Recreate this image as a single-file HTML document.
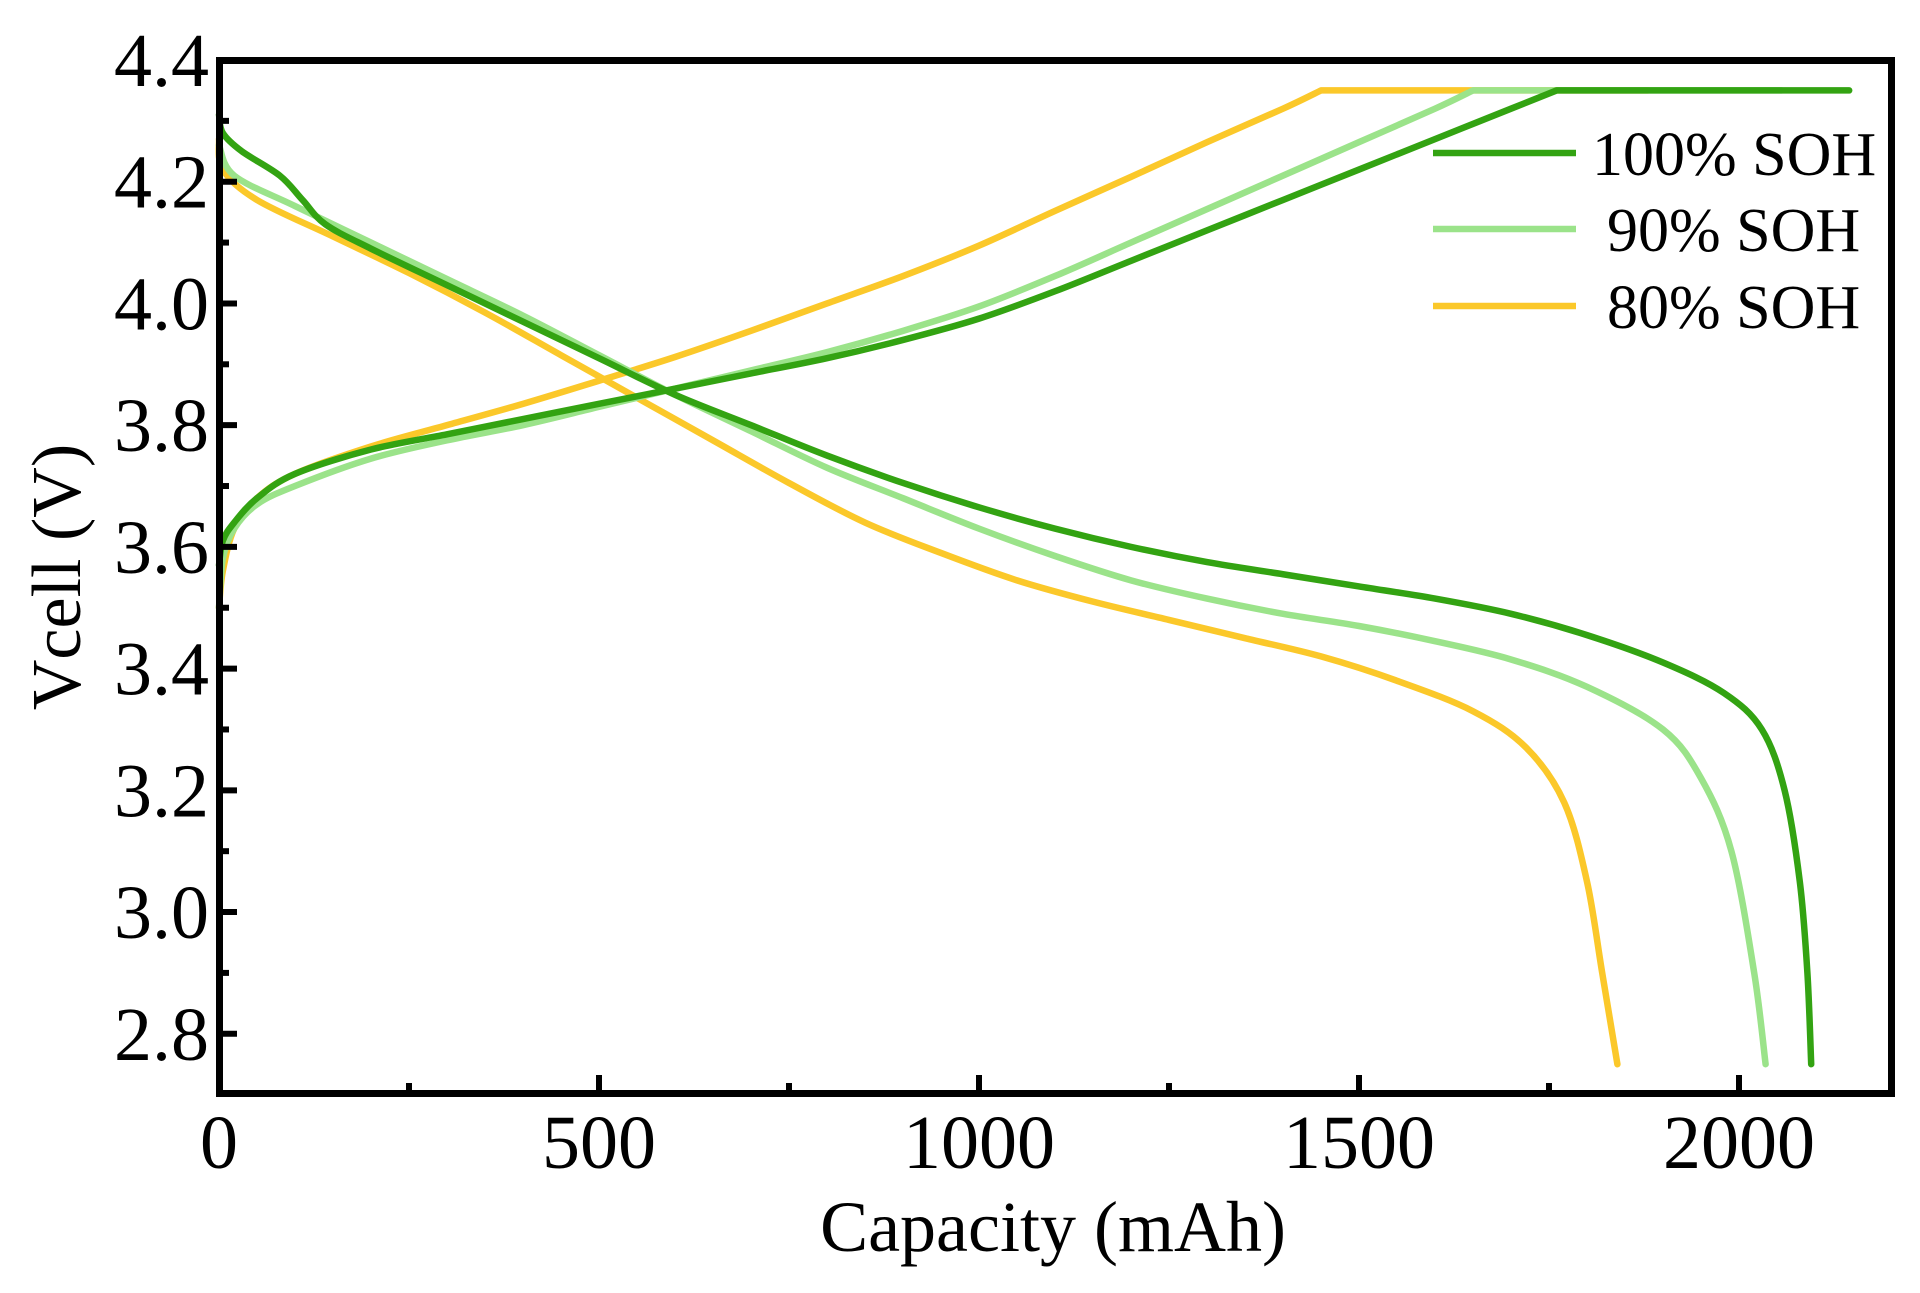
<!DOCTYPE html>
<html><head><meta charset="utf-8"><style>
html,body{margin:0;padding:0;background:#fff;}
svg{display:block;}
text{font-family:"Liberation Serif",serif;fill:#000;}
</style></head><body>
<svg id="s" width="1920" height="1293" viewBox="0 0 1920 1293" xmlns="http://www.w3.org/2000/svg">
<g id="curves" fill="none" stroke-width="6.5" stroke-linecap="round" stroke-linejoin="round"></g>
<g id="ticks" stroke="#000"></g>
<rect x="219.5" y="60.5" width="1672" height="1033" fill="none" stroke="#000" stroke-width="7"/>
<g font-size="76" text-anchor="end" id="ylab"></g>
<g font-size="76" text-anchor="middle" id="xlab"></g>
<text x="1053" y="1251" font-size="72" text-anchor="middle">Capacity (mAh)</text>
<text transform="translate(80,577) rotate(-90)" font-size="70" text-anchor="middle">Vcell (V)</text>
<g stroke-width="6.5">
<line x1="1433" y1="153" x2="1576" y2="153" stroke="#33a312"/>
<line x1="1433" y1="229" x2="1576" y2="229" stroke="#9be38a"/>
<line x1="1433" y1="306" x2="1576" y2="306" stroke="#fbc82a"/>
</g>
<g font-size="62">
<text x="1592" y="175">100% SOH</text>
<text x="1607" y="251">90% SOH</text>
<text x="1607" y="328">80% SOH</text>
</g>
</svg>
<script>
const X=m=>219+0.76*m, Y=v=>60+(4.4-v)*608.6;
function path(pts,tail){const p=pts.map(a=>[X(a[0]),Y(a[1])]);let d="M"+p[0][0]+","+p[0][1];
for(let i=0;i<p.length-1;i++){const p0=p[i-1]||p[i],p1=p[i],p2=p[i+1],p3=p[i+2]||p2;
const c1=[p1[0]+(p2[0]-p0[0])/6,p1[1]+(p2[1]-p0[1])/6],c2=[p2[0]-(p3[0]-p1[0])/6,p2[1]-(p3[1]-p1[1])/6];
d+=" C"+c1+" "+c2+" "+p2;}
if(tail)d+=" L"+X(tail)+","+Y(4.35);return d;}
const G="#33a312",L="#9be38a",Yc="#fbc82a";
const series=[
[Yc,[[0,4.27],[5,4.22],[50,4.17],[150,4.11],[250,4.05],[350,3.985],[450,3.915],[550,3.845],[650,3.775],[750,3.705],[850,3.64],[950,3.59],[1050,3.545],[1150,3.51],[1250,3.48],[1350,3.45],[1450,3.42],[1550,3.38],[1650,3.33],[1720,3.27],[1770,3.18],[1800,3.05],[1820,2.9],[1840,2.75]]],
[Yc,[[0,3.50],[5,3.56],[20,3.63],[50,3.68],[100,3.72],[200,3.765],[300,3.80],[400,3.835],[500,3.873],[600,3.912],[700,3.955],[800,4.0],[900,4.045],[1000,4.095],[1100,4.152],[1200,4.208],[1300,4.265],[1400,4.32],[1450,4.35]],1880],
[L,[[0,4.26],[20,4.21],[100,4.16],[200,4.10],[300,4.04],[400,3.98],[500,3.915],[600,3.85],[700,3.79],[800,3.73],[900,3.68],[1000,3.63],[1100,3.585],[1200,3.545],[1300,3.515],[1400,3.49],[1500,3.47],[1600,3.445],[1700,3.415],[1800,3.37],[1900,3.30],[1950,3.22],[1990,3.10],[2020,2.9],[2035,2.75]]],
[L,[[0,3.50],[5,3.58],[20,3.63],[50,3.67],[100,3.70],[200,3.745],[300,3.775],[400,3.80],[500,3.83],[600,3.86],[700,3.89],[800,3.92],[900,3.955],[1000,3.995],[1100,4.045],[1200,4.10],[1300,4.155],[1400,4.21],[1500,4.265],[1600,4.32],[1650,4.35]],2056],
[G,[[0,4.31],[5,4.28],[30,4.25],[80,4.21],[110,4.17],[140,4.13],[200,4.09],[300,4.03],[400,3.97],[500,3.91],[600,3.85],[700,3.80],[800,3.75],[900,3.705],[1000,3.665],[1100,3.63],[1200,3.60],[1300,3.575],[1400,3.555],[1500,3.535],[1600,3.515],[1700,3.49],[1800,3.455],[1900,3.41],[1980,3.36],[2030,3.30],[2060,3.20],[2080,3.05],[2090,2.9],[2095,2.75]]],
[G,[[0,3.57],[5,3.61],[20,3.64],[50,3.68],[100,3.72],[200,3.76],[300,3.785],[400,3.81],[500,3.835],[600,3.86],[700,3.885],[800,3.91],[900,3.94],[1000,3.975],[1100,4.02],[1200,4.07],[1300,4.12],[1400,4.17],[1500,4.22],[1600,4.27],[1700,4.32],[1760,4.35]],2145]];
const ns="http://www.w3.org/2000/svg",cg=document.getElementById("curves");
series.forEach(s=>{const e=document.createElementNS(ns,"path");e.setAttribute("d",path(s[1],s[2]));e.setAttribute("stroke",s[0]);cg.appendChild(e);});
const tg=document.getElementById("ticks");
function ln(x1,y1,x2,y2,w){const e=document.createElementNS(ns,"line");e.setAttribute("x1",x1);e.setAttribute("y1",y1);e.setAttribute("x2",x2);e.setAttribute("y2",y2);e.setAttribute("stroke-width",w);tg.appendChild(e);}
for(let m=0;m<=2200;m+=250){const x=X(m),maj=m%500==0;ln(x,1093,x,1093-(maj?18:10),6);}
const xl=document.getElementById("xlab");
for(let m=0;m<=2000;m+=500){const t=document.createElementNS(ns,"text");t.setAttribute("x",X(m));t.setAttribute("y",1168);t.textContent=m;xl.appendChild(t);}
const yl=document.getElementById("ylab");
for(let k=0;k<=16;k++){const v=2.8+k*0.1;if(v>4.41)break;const y=Y(v),maj=k%2==0;ln(219,y,219+(maj?18:10),y,6);
if(maj){const t=document.createElementNS(ns,"text");t.setAttribute("x",209);t.setAttribute("y",y+26);t.textContent=v.toFixed(1);yl.appendChild(t);}}
</script>
</body></html>
